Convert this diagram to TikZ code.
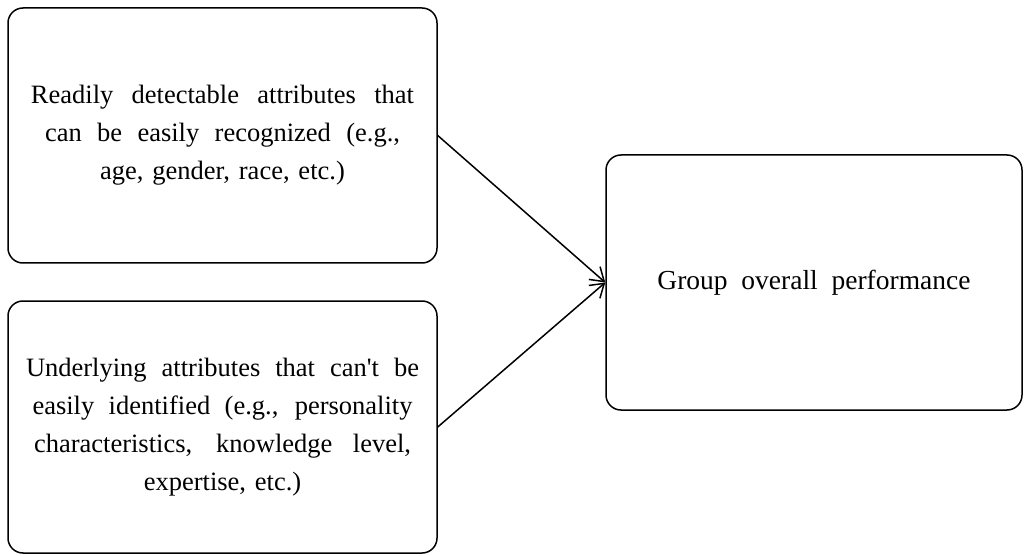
\documentclass[tikz,border=0pt]{standalone}
\usepackage{fontspec}
\setmainfont{Liberation Serif}
\usetikzlibrary{arrows.meta}

% one spread line of a box text
\newcommand{\justline}[2][385pt]{\makebox[#1][s]{\spaceskip=.25em plus 1em\relax #2}}

\tikzset{
    attrbox/.style={draw, line width=1.5pt, rounded corners=15pt, minimum width=429pt,
        text width=400pt, align=center, font=\fontsize{26.5}{38}\selectfont},
    goalbox/.style={draw, line width=1.5pt, rounded corners=15pt, minimum width=416pt,
        minimum height=255pt, font=\fontsize{27.5}{38}\selectfont},
    feeds/.style={line width=1.5pt, -{Straight Barb[length=13pt, width=17pt]}}
}

\begin{document}
\begin{tikzpicture}[x=1pt, y=1pt]
    \useasboundingbox (0,0) rectangle (1025,555);

    \node[attrbox, minimum height=255pt] (surface) at (222.5,419.5)
        {\justline[383pt]{Readily detectable attributes that}\\
         \justline[355pt]{can be easily recognized (e.g.,}\\
         age, gender, race, etc.)};

    \node[attrbox, minimum height=252pt] (deep) at (222.5,128)
        {\justline[393pt]{Underlying attributes that can\textquotesingle t be}\\
         \justline[380pt]{easily identified (e.g., personality}\\
         \justline[377pt]{characteristics, knowledge level,}\\
         expertise, etc.)};

    \node[goalbox] (perf) at (814,272.5) {Group\ \ overall\ \ performance};

    \draw[feeds] (surface.east) -- (perf.west);
    \draw[feeds] (deep.east) -- (perf.west);
\end{tikzpicture}
\end{document}
